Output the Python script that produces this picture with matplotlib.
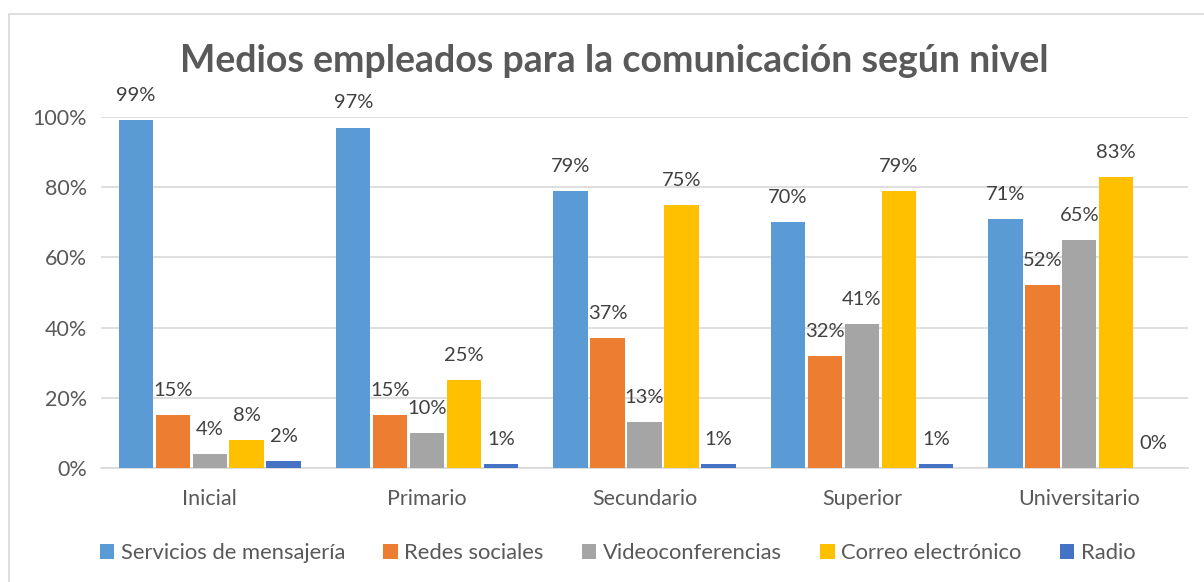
import matplotlib.pyplot as plt
import matplotlib.patches as patches
import numpy as np

niveles = ['Inicial', 'Primario', 'Secundario', 'Superior', 'Universitario']
series = ['Servicios de mensajería', 'Redes sociales', 'Videoconferencias',
          'Correo electrónico', 'Radio']
mensajeria = [0.99, 0.97, 0.79, 0.70, 0.71]
redes = [0.15, 0.15, 0.37, 0.32, 0.52]
video = [0.04, 0.10, 0.13, 0.41, 0.65]
correo = [0.08, 0.25, 0.75, 0.79, 0.83]
radio = [0.02, 0.01, 0.01, 0.01, 0.00]
colores = ['#5B9BD5', '#ED7D31', '#A5A5A5', '#FFC000', '#4472C4']

plt.rcParams['font.family'] = ['Lato', 'DejaVu Sans']

fig = plt.figure(figsize=(12.04, 5.82), dpi=100)
ax = fig.add_axes([0.0839, 0.1959, 0.9028, 0.6031])

# marco del grafico
fig.patches.append(patches.Rectangle((9/1204, -0.05), 1.2, 1 - 14/582 + 0.05,
                                     transform=fig.transFigure, fill=False,
                                     edgecolor='#D9D9D9', linewidth=1.2))

x = np.arange(len(niveles))
ancho = 0.17
datos = [mensajeria, redes, video, correo, radio]
for i, (vals, nombre, col) in enumerate(zip(datos, series, colores)):
    pos = x + (i - 2) * ancho
    ax.bar(pos, vals, width=ancho * 0.93, color=col, label=nombre, zorder=3)
    for p, v in zip(pos, vals):
        ax.text(p, v + 0.07, f'{round(v*100)}%', ha='center', va='center',
                fontsize=14.5, color='#404040', clip_on=False)

ax.set_xlim(-0.5, len(niveles) - 0.5)
ax.set_ylim(0, 1.0)
ax.set_yticks(np.arange(0, 1.01, 0.2))
ax.set_yticklabels([f'{int(t*100)}%' for t in np.arange(0, 1.01, 0.2)])
ax.set_xticks(x)
ax.set_xticklabels(niveles)
ax.tick_params(axis='both', length=0, labelsize=15.5, colors='#595959')
ax.tick_params(axis='x', pad=15)
ax.tick_params(axis='y', pad=10)
ax.grid(axis='y', color='#D9D9D9', linewidth=1.2, zorder=0)
for s in ['top', 'right', 'left']:
    ax.spines[s].set_visible(False)
ax.spines['bottom'].set_color('#D9D9D9')
ax.spines['bottom'].set_linewidth(1.2)

fig.text(0.51, 0.895, 'Medios empleados para la comunicación según nivel',
         ha='center', va='center', fontsize=27, fontweight='bold', color='#595959')

fig.legend(loc='center', bbox_to_anchor=(0.513, 0.05), ncol=5, frameon=False,
           fontsize=15.8, labelcolor='#595959', handlelength=0.65, handleheight=0.65,
           handletextpad=0.3, columnspacing=1.75)

fig.savefig('out.png', dpi=100)
